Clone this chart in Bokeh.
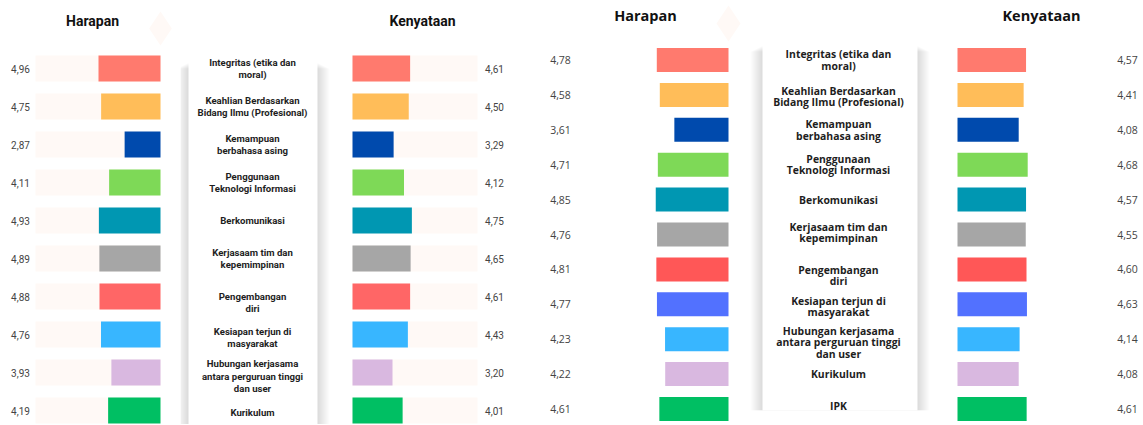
from bokeh.plotting import figure
from bokeh.layouts import row
from bokeh.models import Range1d
from bokeh.core.properties import value
from bokeh.embed import file_html
from bokeh.resources import INLINE

# ---------------- data ----------------
categories_1 = [
    "Integritas (etika dan\nmoral)",
    "Keahlian Berdasarkan\nBidang Ilmu (Profesional)",
    "Kemampuan\nberbahasa asing",
    "Penggunaan\nTeknologi Informasi",
    "Berkomunikasi",
    "Kerjasaam tim dan\nkepemimpinan",
    "Pengembangan\ndiri",
    "Kesiapan terjun di\nmasyarakat",
    "Hubungan kerjasama\nantara perguruan tinggi\ndan user",
    "Kurikulum",
]
harapan_1 = [4.96, 4.75, 2.87, 4.11, 4.93, 4.89, 4.88, 4.76, 3.93, 4.19]
kenyataan_1 = [4.61, 4.50, 3.29, 4.12, 4.75, 4.65, 4.61, 4.43, 3.20, 4.01]
colors_1 = ["#FF7A6E", "#FFBD59", "#004AAD", "#7ED957", "#0097B2", "#A6A6A6",
            "#FF6666", "#38B6FF", "#D9B8E0", "#00BF63"]

categories_2 = [
    "Integritas (etika dan\nmoral)",
    "Keahlian Berdasarkan\nBidang Ilmu (Profesional)",
    "Kemampuan\nberbahasa asing",
    "Penggunaan\nTeknologi Informasi",
    "Berkomunikasi",
    "Kerjasaam tim dan\nkepemimpinan",
    "Pengembangan\ndiri",
    "Kesiapan terjun di\nmasyarakat",
    "Hubungan kerjasama\nantara perguruan tinggi\ndan user",
    "Kurikulum",
    "IPK",
]
harapan_2 = [4.78, 4.58, 3.61, 4.71, 4.85, 4.76, 4.81, 4.77, 4.23, 4.22, 4.61]
kenyataan_2 = [4.57, 4.41, 4.08, 4.68, 4.57, 4.55, 4.60, 4.63, 4.14, 4.08, 4.61]
colors_2 = ["#FF7A6E", "#FFBD59", "#004AAD", "#7ED957", "#0097B2", "#A6A6A6",
            "#FF5757", "#5271FF", "#38B6FF", "#D9B8E0", "#00BF63"]

track_max = 10
titles = ["Harapan", "Kenyataan"]

H = 424


def fmt(v):
    return f"{v:.2f}".replace(".", ",")


def make_fig(width, x_range, y_range):
    p = figure(width=width, height=H, x_range=x_range, y_range=y_range,
               output_backend="svg", toolbar_location=None,
               x_axis_location=None, y_axis_location=None, min_border=0,
               outline_line_color=None, background_fill_color="white",
               border_fill_color="white")
    p.grid.visible = False
    return p


def y_range_for(first_px, pitch):
    top = -first_px / pitch
    bottom = (H - first_px) / pitch
    return Range1d(start=bottom, end=top)


def xrange_for(anchor_px, width, scale, reverse):
    if reverse:
        return Range1d(start=anchor_px / scale, end=-(width - anchor_px) / scale)
    return Range1d(start=-anchor_px / scale, end=(width - anchor_px) / scale)


def row_of(px, first_px, pitch):
    return (px - first_px) / pitch


def add_shadow_box(p, left, right, top, bottom, tpad):
    for d in range(12, 0, -1):
        p.quad(left=[left - d], right=[right + d], top=[top + tpad * d / 12],
               bottom=[bottom], fill_color="black", fill_alpha=0.011,
               line_color=None)
    p.quad(left=[left], right=[right], top=[top], bottom=[bottom],
           fill_color="white", line_color=None)


def panel(cats, harap, keny, cols, cfg):
    n = len(cats)
    idx = list(range(n))
    yr = y_range_for(cfg["first"], cfg["pitch"])
    bh = cfg["bar_h"] / cfg["pitch"]

    # --- Harapan (reversed) ---
    wa = cfg["wa"]
    pa = make_fig(wa, xrange_for(cfg["anchor_a"], wa, cfg["scale"], True), yr)
    dx, dy = cfg["diamond"]
    pa.scatter(x=[(cfg["anchor_a"] - dx) / cfg["scale"]],
               y=[row_of(dy, cfg["first"], cfg["pitch"])],
               marker="diamond", size=cfg["diamond_size"],
               fill_color="#FFF9F6", line_color=None)
    if cfg["track"]:
        pa.hbar(y=idx, left=0, right=track_max, height=bh,
                fill_color="#FFF9F6", line_color=None)
    pa.hbar(y=idx, left=0, right=harap, height=bh, fill_color=cols,
            line_color=None)
    pa.text(x=(cfg["anchor_a"] - cfg["val_a"]) / cfg["scale"], y=idx,
            text=[fmt(v) for v in harap], text_align="center",
            text_baseline="middle", text_font=value(cfg["vfont"]),
            text_font_size=cfg["vsize"], text_color="#444444")
    pa.text(x=[(cfg["anchor_a"] - cfg["title_a"]) / cfg["scale"]],
            y=[row_of(cfg["title_y"], cfg["first"], cfg["pitch"])],
            text=[titles[0]], text_align="center", text_baseline="middle",
            text_font=value(cfg["tfont"]), text_font_style="bold",
            text_font_size=cfg["tsize"], text_color="#111111")

    # --- labels ---
    wb = cfg["wb"]
    pb = make_fig(wb, Range1d(0, wb), yr)
    bl, br, bt, bb = cfg["box"]
    add_shadow_box(pb, bl, br, row_of(bt, cfg["first"], cfg["pitch"]),
                   row_of(bb, cfg["first"], cfg["pitch"]),
                   6 / cfg["pitch"])
    pb.text(x=cfg["label_x"], y=[i + o for i, o in zip(idx, cfg["label_off"])],
            text=cats, text_align="center",
            text_baseline="middle", text_font=value(cfg["lfont"]),
            text_font_style="bold", text_font_size=cfg["lsize"],
            text_line_height=cfg["lh"], text_color="#1E1E1E")

    # --- Kenyataan ---
    wc = cfg["wc"]
    pc = make_fig(wc, xrange_for(cfg["anchor_c"], wc, cfg["scale"], False), yr)
    if cfg["track"]:
        pc.hbar(y=idx, left=0, right=track_max, height=bh,
                fill_color="#FFF9F6", line_color=None)
    pc.hbar(y=idx, left=0, right=keny, height=bh, fill_color=cols,
            line_color=None)
    pc.text(x=(cfg["val_c"] - cfg["anchor_c"]) / cfg["scale"], y=idx,
            text=[fmt(v) for v in keny], text_align="center",
            text_baseline="middle", text_font=value(cfg["vfont"]),
            text_font_size=cfg["vsize"], text_color="#444444")
    pc.text(x=[(cfg["title_c"] - cfg["anchor_c"]) / cfg["scale"]],
            y=[row_of(cfg["title_y"], cfg["first"], cfg["pitch"])],
            text=[titles[1]], text_align="center", text_baseline="middle",
            text_font=value(cfg["tfont"]), text_font_style="bold",
            text_font_size=cfg["tsize"], text_color="#111111")
    return [pa, pb, pc]


cfg1 = dict(first=68, pitch=38.0, bar_h=26, scale=12.5,
            wa=180, anchor_a=160, val_a=20, title_a=92,
            wb=160, box=(8, 137, 62, 440), label_x=72,
            label_off=[0, 0, 0, 0, 0, 0, 0.16, 0.08, 0.1, 0.05],
            wc=200, anchor_c=12, val_c=154, title_c=82,
            title_y=20, track=True, diamond=(160, 28), diamond_size=34,
            vfont="Roboto", vsize="10px", tfont="Roboto", tsize="14px",
            lfont="Roboto", lsize="9.6px", lh=1.15)

cfg2 = dict(first=59.5, pitch=34.9, bar_h=24, scale=15.0,
            wa=205, anchor_a=188, val_a=20, title_a=105,
            wb=190, box=(17, 172, 45, 410), label_x=93,
            label_off=[0, 0.04, 0, 0, 0, -0.06, 0.17, 0.06, 0.09, 0, -0.1],
            wc=207, anchor_c=22, val_c=192, title_c=106,
            title_y=15, track=False, diamond=(188, 23), diamond_size=36,
            vfont="Open Sans", vsize="10.5px", tfont="Open Sans", tsize="14.5px",
            lfont="Open Sans", lsize="10.4px", lh=0.82)

figs = panel(categories_1, harapan_1, kenyataan_1, colors_1, cfg1) + \
    panel(categories_2, harapan_2, kenyataan_2, colors_2, cfg2)

layout = row(*figs, spacing=0)

open("out.html", "w").write(file_html(layout, INLINE))
